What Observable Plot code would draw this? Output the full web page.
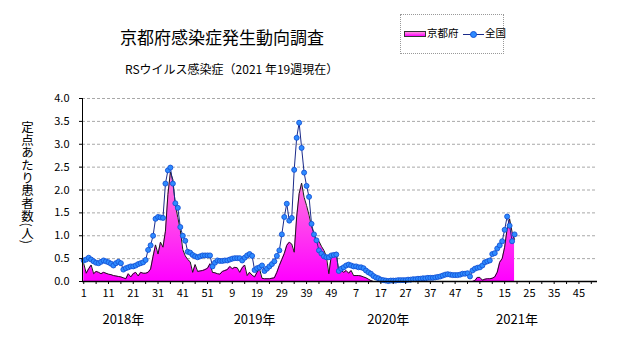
<!DOCTYPE html>
<html><head><meta charset="utf-8">
<script src="https://cdn.jsdelivr.net/npm/d3@7"></script>
<script src="https://cdn.jsdelivr.net/npm/@observablehq/plot@0.6"></script>
<style>
body{margin:0;background:#fff;}
#wrap{position:relative;width:631px;height:347px;overflow:hidden;font-family:"Noto Sans CJK JP",sans-serif;color:#000;}
#title{position:absolute;left:0;width:444px;text-align:center;top:27px;font-size:17px;line-height:20px;}
#sub{position:absolute;left:125px;top:62px;font-size:12px;line-height:14px;white-space:nowrap;}
#ylab{position:absolute;left:20px;top:121px;font-size:12.5px;line-height:14px;writing-mode:vertical-rl;letter-spacing:0.2px;}
#legend{position:absolute;left:400px;top:14px;width:102px;height:38px;border:1px dotted #999;background:#fff;font-size:10.5px;white-space:nowrap;}
#legend .sw{position:absolute;left:3px;top:16px;width:20px;height:4px;border:1px solid #333;background:linear-gradient(#ff99dd,#ff00ff);}
#legend .t1{position:absolute;left:26px;top:11px;line-height:14px;}
#legend .ln{position:absolute;left:62px;top:19px;width:21px;height:1px;background:#1b2b8a;}
#legend .dt{position:absolute;left:69px;top:16px;width:5px;height:5px;border-radius:50%;background:#2e8bff;border:1px solid #1553d6;}
#legend .t2{position:absolute;left:84px;top:11px;line-height:14px;}
#chart{position:absolute;left:0;top:0;}
</style></head><body>
<div id="wrap">
<div id="chart"></div>
<div id="title">京都府感染症発生動向調査</div>
<div id="sub">RSウイルス感染症（2021 年19週現在）</div>
<div id="ylab">定点あたり患者数(人)</div>
<div id="legend"><div class="sw"></div><div class="t1">京都府</div><div class="ln"></div><div class="dt"></div><div class="t2">全国</div></div>
</div>
<script>
// Week counts per year (2018–2021)
const yearWeeks = [52, 52, 52, 52];
const years = ["2018年", "2019年", "2020年", "2021年"];
const xTickLabels = ["1","11","21","31","41","51","9","19","29","39","49","7","17","27","37","47","5","15","25","35","45"];
const yTicks = [0, 0.5, 1, 1.5, 2, 2.5, 3, 3.5, 4];

// Kyoto (per-sentinel cases), weekly
const kyoto2018 = [0.39,0.18,0.28,0.36,0.17,0.22,0.20,0.17,0.20,0.18,
  0.16,0.15,0.13,0.12,0.11,0.10,0.08,0.06,0.17,0.10,
  0.17,0.20,0.12,0.20,0.18,0.18,0.20,0.27,0.55,0.80,
  0.60,0.86,0.75,1.10,1.90,2.39,2.23,1.66,1.40,1.12,
  0.70,0.56,0.48,0.43,0.20,0.37,0.22,0.23,0.24,0.26,
  0.29,0.39];
const kyoto2019 = [0.20,0.19,0.17,0.16,0.22,0.24,0.26,0.33,0.28,0.31,
  0.30,0.20,0.30,0.36,0.13,0.20,0.14,0.10,0.20,0.28,
  0.07,0.06,0.06,0.06,0.07,0.08,0.20,0.35,0.48,0.61,
  0.79,0.86,0.82,0.64,1.41,1.92,2.15,1.84,1.66,1.45,
  1.20,1.05,0.86,0.88,0.77,0.68,0.55,0.17,0.57,0.60,
  0.64,0.20];
const kyoto2020 = [0.24,0.20,0.24,0.18,0.24,0.13,0.13,0.13,0.12,0.10,
  0.08,0.05,0.02,0,0,0,0,0,0,0,
  0,0,0,0,0,0,0,0,0,0,
  0,0,0,0,0,0,0,0,0,0,
  0,0,0,0,0,0,0,0,0,0,
  0,0];
const kyoto2021 = [0,0,0.02,0.09,0.09,0.03,0.05,0.06,0.06,0.07,
  0.10,0.20,0.42,0.50,0.75,1.15,1.37,1.08,0.92];

// National (per-sentinel cases), weekly
const national2018 = [0.46,0.48,0.52,0.48,0.44,0.41,0.40,0.43,0.46,0.44,
  0.42,0.39,0.35,0.40,0.43,0.40,0.26,0.29,0.31,0.33,
  0.33,0.35,0.38,0.40,0.42,0.47,0.69,0.79,1.00,1.37,
  1.41,1.40,1.39,2.14,2.43,2.49,2.14,1.71,1.61,1.19,
  1.00,0.89,0.65,0.63,0.58,0.55,0.53,0.55,0.57,0.57,
  0.57,0.57];
const national2019 = [0.33,0.41,0.46,0.45,0.45,0.46,0.46,0.48,0.50,0.51,
  0.51,0.51,0.46,0.52,0.57,0.60,0.56,0.25,0.29,0.31,
  0.35,0.23,0.28,0.33,0.38,0.44,0.56,0.68,1.03,1.41,
  1.70,1.33,1.39,2.44,3.14,3.47,2.92,2.38,2.09,1.85,
  1.26,1.03,0.90,0.68,0.61,0.55,0.53,0.53,0.57,0.58,
  0.59,0.23];
const national2020 = [0.28,0.31,0.35,0.37,0.35,0.33,0.33,0.31,0.31,0.29,
  0.24,0.20,0.17,0.12,0.09,0.07,0.04,0.03,0.02,0.01,
  0.02,0.02,0.02,0.03,0.03,0.03,0.03,0.04,0.04,0.05,
  0.05,0.06,0.06,0.07,0.07,0.08,0.08,0.08,0.09,0.10,
  0.11,0.13,0.15,0.16,0.15,0.14,0.14,0.14,0.15,0.17,
  0.17,0.18];
const national2021 = [0.11,0.24,0.28,0.30,0.31,0.35,0.42,0.44,0.46,0.60,
  0.62,0.72,0.79,0.88,1.13,1.42,1.22,0.88,1.03];

// Layout: week index at which each year label is centred
const yearLabelAt = [16, 69, 123, 175];

const kyoto = [...kyoto2018, ...kyoto2019, ...kyoto2020, ...kyoto2021];
const national = [...national2018, ...national2019, ...national2020, ...national2021];
const rows = kyoto.map((v, i) => ({i, kyoto: v, national: national[i]}));
const totalWeeks = d3.sum(yearWeeks);

const chart = Plot.plot({
  width: 631, height: 347,
  marginLeft: 82, marginRight: 34, marginTop: 98, marginBottom: 66,
  x: {domain: [-0.5, totalWeeks - 0.5]},
  y: {domain: [0, 4]},
  style: {fontFamily: "'Noto Sans CJK JP', sans-serif", fontSize: "11px", color: "#000", background: "transparent", overflow: "visible"},
  marks: [
    Plot.ruleY(yTicks.filter(d => d > 0), {stroke: "#a8a8a8", strokeDasharray: "3,2"}),
    Plot.areaY(rows, {x: "i", y: "kyoto", fill: "url(#kgrad)"}),
    Plot.line(rows, {x: "i", y: "kyoto", stroke: "#1a1a1a", strokeWidth: 1}),
    Plot.line(rows, {x: "i", y: "national", stroke: "#1b2b8a", strokeWidth: 1}),
    Plot.dot(rows, {x: "i", y: "national", r: 2.5, fill: "#2e8bff", stroke: "#1553d6", strokeWidth: 0.9}),
    Plot.ruleX([-0.5], {stroke: "#000"}),
    Plot.ruleY([0], {stroke: "#000", strokeWidth: 1.5}),
    Plot.axisY({ticks: yTicks, tickFormat: d3.format(".1f"), tickSize: 3, tickPadding: 10, label: null}),
    Plot.axisX({ticks: d3.range(0, totalWeeks, 5), tickSize: 3, tickPadding: 5,
      tickFormat: i => i % 10 === 0 ? (xTickLabels[i / 10] ?? "") : "", label: null}),
    Plot.text(years, {x: (d, k) => yearLabelAt[k], frameAnchor: "bottom", dy: 42, fontSize: 13})
  ]
});

const defs = d3.select(chart).insert("defs", ":first-child");
const g = defs.append("linearGradient").attr("id", "kgrad")
  .attr("gradientUnits", "userSpaceOnUse").attr("x1", 0).attr("x2", 0).attr("y1", 150).attr("y2", 281);
g.append("stop").attr("offset", "0").attr("stop-color", "#ff9ad6");
g.append("stop").attr("offset", "1").attr("stop-color", "#ff00ff");

document.getElementById("chart").appendChild(chart);
</script>
</body></html>
